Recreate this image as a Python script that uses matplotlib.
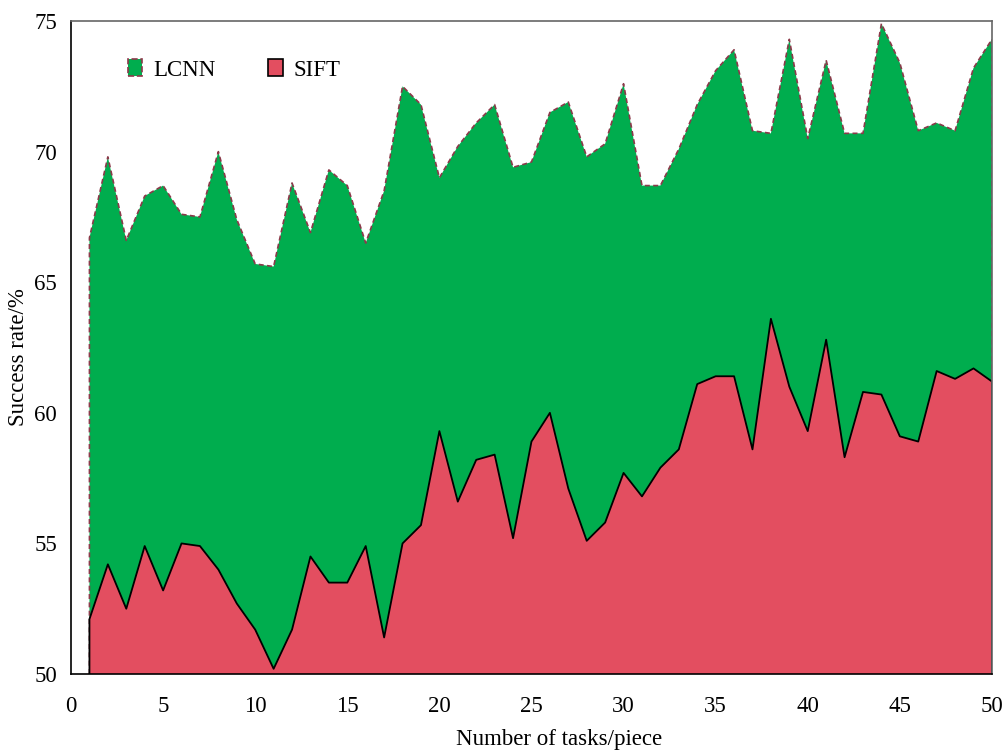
import numpy as np
import matplotlib.pyplot as plt
from matplotlib.patches import Patch

plt.rcParams['font.family'] = ['Liberation Serif', 'DejaVu Serif']
plt.rcParams['font.size'] = 16.5

# 任务数
tasks = list(range(1, 51))

# LCNN 成功率 (%)
lcnn = [66.7, 69.8, 66.6, 68.3, 68.7, 67.6, 67.5, 70.0, 67.4, 65.7,
        65.6, 68.8, 66.9, 69.3, 68.7, 66.5, 68.5, 72.5, 71.8, 69.0,
        70.2, 71.1, 71.8, 69.4, 69.6, 71.5, 71.9, 69.8, 70.3, 72.6,
        68.7, 68.7, 70.1, 71.8, 73.1, 73.9, 70.8, 70.7, 74.3, 70.5,
        73.5, 70.7, 70.7, 74.9, 73.4, 70.8, 71.1, 70.8, 73.2, 74.3]

# SIFT 成功率 (%)
sift = [52.1, 54.2, 52.5, 54.9, 53.2, 55.0, 54.9, 54.0, 52.7, 51.7,
        50.2, 51.7, 54.5, 53.5, 53.5, 54.9, 51.4, 55.0, 55.7, 59.3,
        56.6, 58.2, 58.4, 55.2, 58.9, 60.0, 57.1, 55.1, 55.8, 57.7,
        56.8, 57.9, 58.6, 61.1, 61.4, 61.4, 58.6, 63.6, 61.0, 59.3,
        62.8, 58.3, 60.8, 60.7, 59.1, 58.9, 61.6, 61.3, 61.7, 61.2]

green = '#00ad4e'
red = '#e34e60'
edge_dash = '#8b3a4a'

fig = plt.figure(figsize=(10.06, 7.51), dpi=100)
ax = fig.add_axes([0.0706, 0.1025, 0.9154, 0.8695])

ax.fill_between(tasks, 50, lcnn, facecolor=green, edgecolor='none', zorder=1)
ax.plot([tasks[0]] + tasks + [tasks[-1]], [50] + lcnn + [50],
        color=edge_dash, linestyle=(0, (3, 2)), linewidth=1.2, zorder=2)
ax.fill_between(tasks, 50, sift, facecolor=red, edgecolor='none', zorder=3)
ax.plot([tasks[0]] + tasks + [tasks[-1]], [50] + sift + [50],
        color='black', linewidth=1.3, zorder=4)

ax.set_xlim(0, 50)
ax.set_ylim(50, 75)
ax.set_xticks(range(0, 51, 5))
ax.set_yticks(range(50, 76, 5))
ax.tick_params(length=0)
ax.tick_params(axis='x', pad=16)
ax.tick_params(axis='y', pad=10)

for side in ['top', 'right']:
    ax.spines[side].set_color('#666666')
for side in ['left', 'bottom']:
    ax.spines[side].set_color('black')
for s in ax.spines.values():
    s.set_linewidth(1.2)
    s.set_zorder(5)

ax.set_xlabel('Number of tasks/piece')
ax.set_ylabel('Success rate/%')
ax.xaxis.set_label_coords(0.53, -0.084)
ax.yaxis.set_label_coords(-0.046, 0.485)

handles = [Patch(facecolor=green, edgecolor=edge_dash, linestyle='--', linewidth=1.2),
           Patch(facecolor=red, edgecolor='black', linewidth=1.2)]
ax.legend(handles, ['LCNN', 'SIFT'], loc='center left', bbox_to_anchor=(0.039, 0.925),
          ncol=2, frameon=False, handlelength=0.62, handleheight=0.7,
          handletextpad=0.5, columnspacing=2.3)

plt.savefig('out.png', dpi=100)
